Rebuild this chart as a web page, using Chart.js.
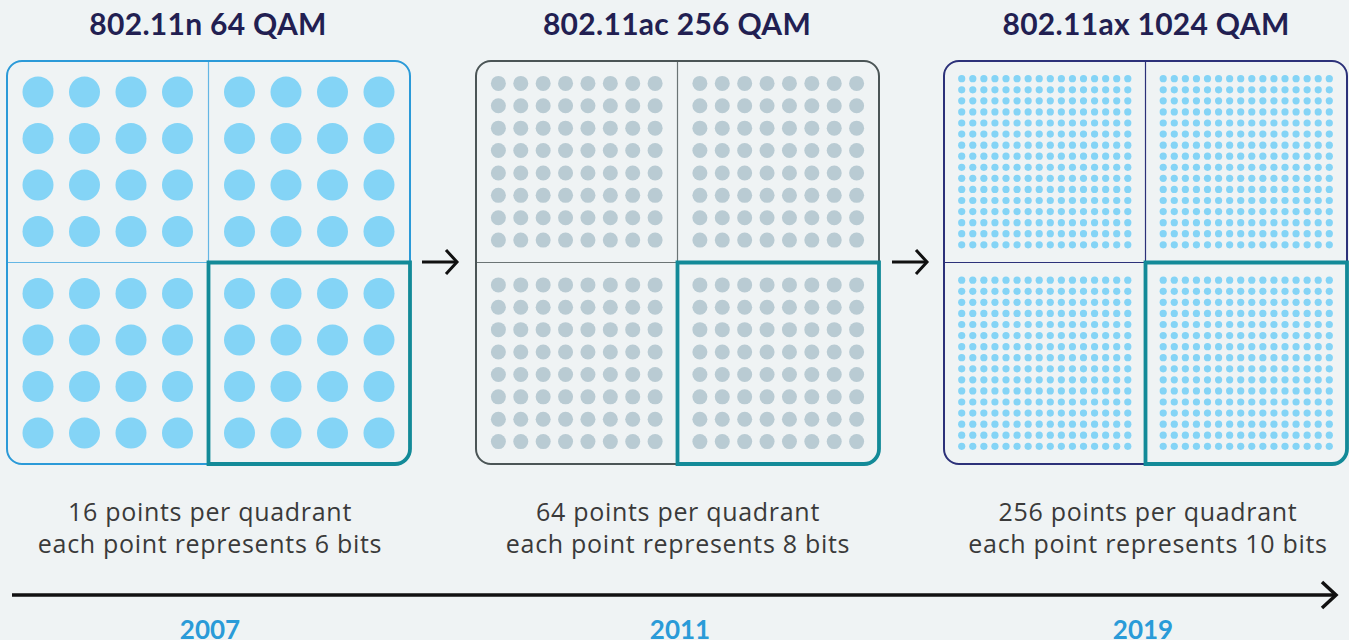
<!DOCTYPE html>
<html>
<head>
<meta charset="utf-8">
<script src="https://cdn.jsdelivr.net/npm/chart.js@4/dist/chart.umd.min.js"></script>
<style>
  html, body { margin: 0; padding: 0; background: #eff3f4; overflow: hidden; }
  body { width: 1349px; height: 640px; position: relative; font-family: Lato, "Open Sans", sans-serif; }
  .panel { position: absolute; top: 59px; width: 407px; height: 407px; }
  .title { position: absolute; top: 5px; transform: translateX(-50%); white-space: nowrap;
           font-weight: 700; font-size: 30px; color: #221f52; letter-spacing: 0.3px; }
  .caption { position: absolute; top: 495px; transform: translateX(-50%); white-space: nowrap; text-align: center;
             font-family: "Open Sans", sans-serif; font-size: 25px; line-height: 32px; color: #3a3a3a; letter-spacing: 0.7px; }
  .year { position: absolute; top: 613px; transform: translateX(-50%); font-weight: 700; font-size: 26px; color: #2a9bd8; }
  svg { position: absolute; left: 0; top: 0; }
</style>
</head>
<body>

<div class="title" style="left:208px">802.11n 64 QAM</div>
<div class="title" style="left:677px">802.11ac 256 QAM</div>
<div class="title" style="left:1146px">802.11ax 1024 QAM</div>

<div class="panel" style="left:5px"><canvas id="qam64"></canvas></div>
<div class="panel" style="left:474px"><canvas id="qam256"></canvas></div>
<div class="panel" style="left:942px"><canvas id="qam1024"></canvas></div>

<div class="caption" style="left:210px">16 points per quadrant<br>each point represents 6 bits</div>
<div class="caption" style="left:678px">64 points per quadrant<br>each point represents 8 bits</div>
<div class="caption" style="left:1148px">256 points per quadrant<br>each point represents 10 bits</div>

<div class="year" style="left:210px">2007</div>
<div class="year" style="left:680px">2011</div>
<div class="year" style="left:1143px">2019</div>

<svg width="1349" height="640">
  <g fill="none" stroke="#111" stroke-width="3" stroke-linecap="butt">
    <line x1="422" y1="262" x2="457" y2="262"/>
    <polyline points="446,250 457,262 446,274"/>
    <line x1="892" y1="262" x2="927" y2="262"/>
    <polyline points="916,250 927,262 916,274"/>
    <line x1="12" y1="595" x2="1336" y2="595" stroke-width="3.5"/>
    <polyline points="1322,582 1336,595 1322,608" stroke-width="3.5"/>
  </g>
</svg>

<script>
// constellation levels (positive I/Q amplitudes in each quadrant), mirrored for the other three
const levels64 = [2, 5, 8, 11];
const levels256 = [1, 2, 3, 4, 5, 6, 7, 8];
const levels1024 = [1.6, 2.6, 3.6, 4.6, 5.6, 6.6, 7.6, 8.6, 9.6, 10.6, 11.6, 12.6, 13.6, 14.6, 15.6, 16.6];
const axisMax64 = 13;
const axisMax256 = 9;
const axisMax1024 = 18.2;

function constellation(levels) {
    const all = levels.map(v => -v).reverse().concat(levels);
    const pts = [];
    all.forEach(y => all.forEach(x => pts.push({ x: x, y: y })));
    return pts;
}

// draws the rounded frame, the quadrant dividers and the highlighted quadrant
const qamFrame = {
    id: 'qamFrame',
    beforeDatasetsDraw(chart, args, opts) {
        const { ctx, chartArea: a, scales } = chart;
        const cx = scales.x.getPixelForValue(0);
        const cy = scales.y.getPixelForValue(0);
        ctx.save();
        ctx.strokeStyle = opts.divider;
        ctx.lineWidth = 1.2;
        ctx.beginPath();
        ctx.moveTo(cx, a.top); ctx.lineTo(cx, a.bottom);
        ctx.moveTo(a.left, cy); ctx.lineTo(a.right, cy);
        ctx.stroke();
        ctx.restore();
    },
    afterDatasetsDraw(chart, args, opts) {
        const { ctx, chartArea: a, scales } = chart;
        const cx = scales.x.getPixelForValue(0);
        const cy = scales.y.getPixelForValue(0);
        const r = 15;
        ctx.save();
        ctx.strokeStyle = opts.border;
        ctx.lineWidth = 2;
        ctx.beginPath();
        ctx.roundRect(a.left, a.top, a.right - a.left, a.bottom - a.top, r);
        ctx.stroke();

        ctx.strokeStyle = '#138a98';
        ctx.lineWidth = 3.8;
        ctx.beginPath();
        ctx.moveTo(cx, cy);
        ctx.lineTo(a.right, cy);
        ctx.lineTo(a.right, a.bottom - r);
        ctx.arcTo(a.right, a.bottom, a.right - r, a.bottom, r);
        ctx.lineTo(cx, a.bottom);
        ctx.closePath();
        ctx.stroke();
        ctx.restore();
    }
};

function makeChart(id, levels, axisMax, dotColor, radius, border, divider) {
    new Chart(document.getElementById(id), {
        type: 'scatter',
        data: {
            datasets: [{
                data: constellation(levels),
                backgroundColor: dotColor,
                borderWidth: 0,
                pointRadius: radius,
                pointHoverRadius: radius
            }]
        },
        options: {
            responsive: true,
            maintainAspectRatio: false,
            animation: false,
            layout: { padding: 2, autoPadding: false },
            events: [],
            scales: {
                x: { display: false, min: -axisMax, max: axisMax },
                y: { display: false, min: -axisMax, max: axisMax }
            },
            plugins: {
                legend: { display: false },
                tooltip: { enabled: false },
                qamFrame: { border: border, divider: divider }
            }
        },
        plugins: [qamFrame]
    });
}

makeChart('qam64', levels64, axisMax64, '#84d4f6', 15.5, '#2b9ad8', '#64b6e4');
makeChart('qam256', levels256, axisMax256, '#b9cbd3', 7.5, '#4b5556', '#6b7475');
makeChart('qam1024', levels1024, axisMax1024, '#84d4f6', 3.6, '#2c3179', '#2c3179');
</script>
</body>
</html>
